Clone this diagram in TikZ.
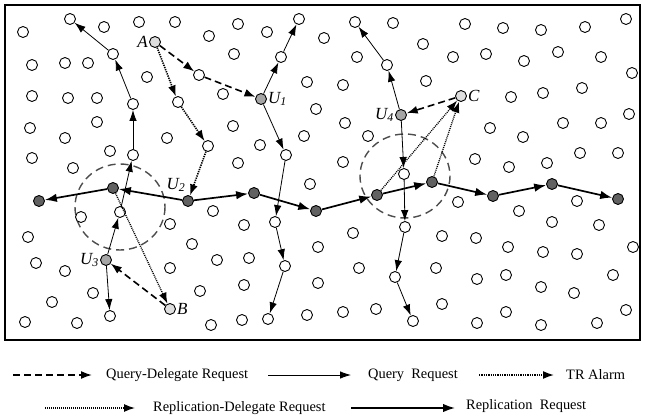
\documentclass[tikz,border=0pt]{standalone}
\usepackage{fontspec}
\setmainfont{Liberation Serif}
\usetikzlibrary{arrows.meta}

\begin{document}
\begin{tikzpicture}[x=1pt,y=-1pt,
    peer/.style={circle,draw,line width=0.9pt,minimum size=11pt,inner sep=0pt,fill=white},
    repl/.style={peer,fill=black!62},
    user/.style={peer,fill=black!35},
    src/.style={peer,fill=black!13},
    lbl/.style={font=\fontsize{17}{17}\selectfont\itshape,inner sep=1pt},
    legtext/.style={font=\fontsize{14.4}{16}\selectfont,anchor=west,inner sep=0pt},
    qdel/.style={line width=1.6pt,dash pattern=on 7pt off 4pt,-{Latex[length=11pt,width=8pt]}},
    query/.style={line width=0.8pt,-{Latex[length=11pt,width=7.5pt]}},
    tralarm/.style={line width=1.6pt,dash pattern=on 1.3pt off 1pt,-{Latex[length=11pt,width=8pt]}},
    repdel/.style={line width=1.3pt,dash pattern=on 1pt off 1pt,-{Latex[length=11pt,width=8pt]}},
    rep/.style={line width=1.7pt,-{Latex[length=12pt,width=8.5pt]}},
    zone/.style={draw=black!70,line width=1.4pt,dash pattern=on 8pt off 5pt}]
    \useasboundingbox (0,0) rectangle (645,420);
    \draw[line width=1.1pt] (5,5) rectangle (640,340);
    % hot zones
    \draw[zone] (120,207) ellipse [x radius=45,y radius=43];
    \draw[zone] (405,176) ellipse [x radius=45,y radius=42];
    % other peers
    \foreach \px/\py [count=\i] in {23/32,104/27,139/22,175/22,209/36,238/24,267/32,324/38,393/23,465/24,503/28,541/30,585/27,626/19,
        32/65,65/63,88/63,234/54,357/57,423/44,453/57,486/54,524/61,558/52,601/57,
        147/77,223/94,32/96,68/98,97/98,307/82,343/85,316/109,426/81,511/97,543/93,582/88,632/73,
        30/128,65/138,97/122,167/138,32/158,110/151,73/168,233/126,260/145,238/163,304/136,345/123,368/136,343/162,
        490/128,523/137,563/123,601/123,629/114,475/159,509/167,547/163,580/153,618/153,
        81/217,170/224,213/211,28/237,192/244,310/184,244/225,353/233,318/247,458/202,519/211,577/201,552/222,599/225,
        442/236,476/238,508/247,543/252,577/254,633/247,
        36/263,65/271,170/268,217/260,249/258,359/268,436/268,477/279,506/275,541/287,574/293,613/275,
        93/293,52/302,200/291,244/285,318/283,25/322,77/323,211/325,242/320,307/315,343/312,376/309,
        442/304,477/323,506/312,541/325,597/323,626/310}
        \node[peer] (p\i) at (\px,\py) {};
    % replication path
    \node[repl] (r1) at (39,201) {};
    \node[repl] (r2) at (113,188) {};
    \node[repl] (r3) at (254,193) {};
    \node[repl] (r4) at (316,211) {};
    \node[repl] (r5) at (377,195) {};
    \node[repl] (r6) at (432,182) {};
    \node[repl] (r7) at (493,196) {};
    \node[repl] (r8) at (552,184) {};
    \node[repl] (r9) at (618,199) {};
    \node[repl] (u2) at (188,201) {};
    % delegates and sources
    \node[user] (u1) at (261,99) {};
    \node[user] (u3) at (106,260) {};
    \node[user] (u4) at (401,115) {};
    \node[src] (sa) at (155,42) {};
    \node[src] (sb) at (170,309) {};
    \node[src] (sc) at (461,96) {};
    % peers on query paths
    \node[peer] (qa) at (120,212) {};
    \node[peer] (qb) at (133,155) {};
    \node[peer] (qc) at (133,104) {};
    \node[peer] (qd) at (113,54) {};
    \node[peer] (qe) at (70,19) {};
    \node[peer] (qf) at (110,316) {};
    \node[peer] (qg) at (281,57) {};
    \node[peer] (qh) at (299,19) {};
    \node[peer] (qi) at (286,155) {};
    \node[peer] (qj) at (275,222) {};
    \node[peer] (qk) at (285,266) {};
    \node[peer] (ql) at (268,319) {};
    \node[peer] (qm) at (387,65) {};
    \node[peer] (qn) at (355,22) {};
    \node[peer] (qo) at (404,174) {};
    \node[peer] (qp) at (405,227) {};
    \node[peer] (qq) at (395,277) {};
    \node[peer] (qr) at (413,321) {};
    \node[peer] (da) at (199,75) {};
    \node[peer] (ta) at (178,102) {};
    \node[peer] (tb) at (208,146) {};
    % labels
    \node[lbl,left] at (sa.west) {A};
    \node[lbl,right] at (sb.east) {B};
    \node[lbl,right] at (sc.east) {C};
    \node[lbl,right] at (u1.east) {U\textsubscript{1}};
    \node[lbl] at (176,185) {U\textsubscript{2}};
    \node[lbl,left] at (u3.west) {U\textsubscript{3}};
    \node[lbl,left] at (u4.west) {U\textsubscript{4}};
    % query-delegate requests
    \draw[qdel] (sa) -- (da);
    \draw[qdel] (da) -- (u1);
    \draw[qdel] (sb) -- (u3);
    \draw[qdel] (sc) -- (u4);
    % TR alarm
    \draw[tralarm] (sa) -- (ta);
    \draw[tralarm] (ta) -- (tb);
    \draw[tralarm] (tb) -- (u2);
    % replication-delegate requests
    \draw[repdel] (r2) -- (sb);
    \draw[repdel] (r5) -- (sc);
    \draw[repdel] (r6) -- (sc);
    % query requests
    \draw[query] (u3) -- (qa);
    \draw[query] (qa) -- (qb);
    \draw[query] (qb) -- (qc);
    \draw[query] (qc) -- (qd);
    \draw[query] (qd) -- (qe);
    \draw[query] (u3) -- (qf);
    \draw[query] (u1) -- (qg);
    \draw[query] (qg) -- (qh);
    \draw[query] (u1) -- (qi);
    \draw[query] (qi) -- (qj);
    \draw[query] (qj) -- (qk);
    \draw[query] (qk) -- (ql);
    \draw[query] (u4) -- (qm);
    \draw[query] (qm) -- (qn);
    \draw[query] (u4) -- (qo);
    \draw[query] (qo) -- (qp);
    \draw[query] (qp) -- (qq);
    \draw[query] (qq) -- (qr);
    % replication requests
    \draw[rep] (u2) -- (r2);
    \draw[rep] (r2) -- (r1);
    \draw[rep] (u2) -- (r3);
    \draw[rep] (r3) -- (r4);
    \draw[rep] (r4) -- (r5);
    \draw[rep] (r5) -- (r6);
    \draw[rep] (r6) -- (r7);
    \draw[rep] (r7) -- (r8);
    \draw[rep] (r8) -- (r9);
    % legend
    \coordinate (k1) at (13,375);  \coordinate (k2) at (92,375);
    \coordinate (k3) at (268,375); \coordinate (k4) at (351,375);
    \coordinate (k5) at (479,375); \coordinate (k6) at (554,375);
    \coordinate (k7) at (45,408);  \coordinate (k8) at (135,408);
    \coordinate (k9) at (351,408); \coordinate (k10) at (455,408);
    \draw[qdel] (k1) -- (k2);
    \node[legtext] (t1) at (106,375) {Query-Delegate Request};
    \draw[query] (k3) -- (k4);
    \node[legtext] (t2) at (368,375) {Query\ \ Request};
    \draw[tralarm] (k5) -- (k6);
    \node[legtext] (t3) at (566,375) {TR Alarm};
    \draw[repdel] (k7) -- (k8);
    \node[legtext] (t4) at (153,408) {Replication-Delegate Request};
    \draw[rep] (k9) -- (k10);
    \node[legtext] (t5) at (466,406) {Replication\ \ Request};
\end{tikzpicture}
\end{document}
